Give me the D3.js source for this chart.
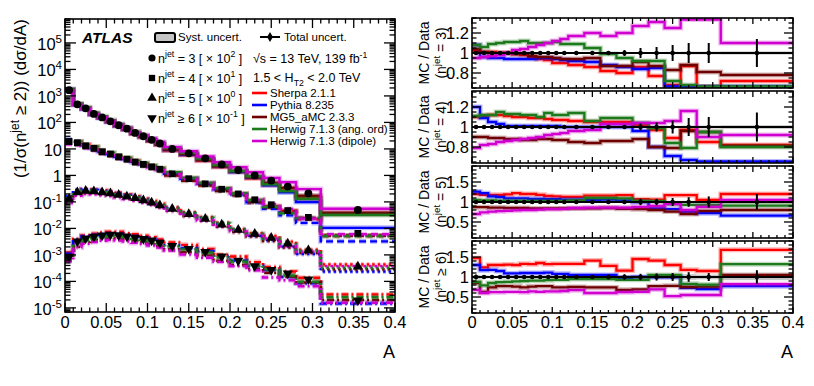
<!DOCTYPE html>
<html>
<head>
<meta charset="utf-8">
<script src="https://cdn.jsdelivr.net/npm/d3@7"></script>
<style>
body { margin: 0; background: #fff; }
text { font-family: "Liberation Sans", Arial, Helvetica, sans-serif; white-space: pre; fill: #000; }
</style>
</head>
<body>
<script>
// Bin edges in A and tick labels
var edges = [0, 0.01, 0.02, 0.03, 0.04, 0.05, 0.06, 0.07, 0.08, 0.09, 0.10, 0.11, 0.12,
             0.14, 0.16, 0.18, 0.20, 0.22, 0.24, 0.26, 0.28, 0.31, 0.40];
var xTickValues = [0, 0.05, 0.1, 0.15, 0.2, 0.25, 0.3, 0.35, 0.4];
var xTickLabels = ['0', '0.05', '0.1', '0.15', '0.2', '0.25', '0.3', '0.35', '0.4'];
var ratioTicksA = [0.8, 1, 1.2], ratioLabelsA = ['0.8', '1', '1.2'];
var ratioTicksB = [0.5, 1, 1.5], ratioLabelsB = ['0.5', '1', '1.5'];

// Data, already scaled as drawn (n=3 x100, n=4 x10, n=5 x1, n>=6 x0.1)
var data3 = [1650, 480, 340, 210, 155, 110, 78, 58, 40, 30, 22, 16, 10, 6.8, 4.4, 2.6, 1.6, 1.0, 0.64, 0.38, 0.21, 0.05];
var data4 = [19, 17, 13, 10.5, 7.8, 6.4, 5.0, 4.1, 3.2, 2.6, 2.1, 1.7, 1.15, 0.75, 0.48, 0.30, 0.20, 0.12, 0.078, 0.047, 0.026, 0.0065];
var data5 = [0.13, 0.23, 0.26, 0.25, 0.23, 0.21, 0.185, 0.16, 0.14, 0.115, 0.095, 0.075, 0.055, 0.035, 0.023, 0.014, 0.0088, 0.0062, 0.0044, 0.0027, 0.0015, 0.00036];
var data6 = [0.00085, 0.0032, 0.0042, 0.0049, 0.0054, 0.0058, 0.0056, 0.0050, 0.0045, 0.0040, 0.0035, 0.0029, 0.0022, 0.0017, 0.0013, 0.00088, 0.0006, 0.00038, 0.00027, 0.0002, 0.00012, 0.000019];

// relative total and systematic uncertainties
var err3 = [0.008, 0.006, 0.006, 0.006, 0.006, 0.006, 0.006, 0.007, 0.007, 0.007, 0.008, 0.008, 0.008, 0.01, 0.015, 0.03, 0.05, 0.06, 0.08, 0.10, 0.10, 0.14];
var err4 = [0.006, 0.005, 0.005, 0.005, 0.005, 0.005, 0.005, 0.005, 0.005, 0.005, 0.005, 0.006, 0.006, 0.008, 0.01, 0.015, 0.035, 0.045, 0.065, 0.09, 0.10, 0.145];
var err5 = [0.04, 0.03, 0.025, 0.025, 0.025, 0.025, 0.025, 0.025, 0.025, 0.025, 0.025, 0.03, 0.03, 0.035, 0.04, 0.05, 0.08, 0.08, 0.10, 0.12, 0.14, 0.20];
var err6 = [0.06, 0.04, 0.035, 0.035, 0.035, 0.035, 0.035, 0.035, 0.035, 0.035, 0.04, 0.04, 0.04, 0.05, 0.06, 0.07, 0.08, 0.09, 0.10, 0.12, 0.10, 0.17];
var syst3 = [0.004, 0.003, 0.003, 0.003, 0.003, 0.003, 0.003, 0.003, 0.003, 0.003, 0.004, 0.004, 0.004, 0.005, 0.006, 0.008, 0.01, 0.01, 0.012, 0.014, 0.014, 0.016];
var syst4 = [0.003, 0.003, 0.003, 0.003, 0.003, 0.003, 0.003, 0.003, 0.003, 0.003, 0.003, 0.003, 0.003, 0.004, 0.005, 0.006, 0.008, 0.01, 0.012, 0.014, 0.015, 0.018];
var syst5 = [0.02, 0.015, 0.015, 0.015, 0.015, 0.015, 0.015, 0.015, 0.015, 0.015, 0.015, 0.015, 0.015, 0.02, 0.02, 0.02, 0.025, 0.025, 0.03, 0.03, 0.035, 0.04];
var syst6 = [0.05, 0.04, 0.035, 0.035, 0.035, 0.035, 0.035, 0.035, 0.035, 0.035, 0.035, 0.035, 0.04, 0.04, 0.05, 0.05, 0.05, 0.06, 0.06, 0.07, 0.06, 0.08];

var generators = ['Sherpa 2.1.1', 'Pythia 8.235', 'MG5_aMC 2.3.3', 'Herwig 7.1.3 (ang. ord)', 'Herwig 7.1.3 (dipole)'];

// MC / Data, one row per generator in the order above
var ratioN3 = [
    [1.02, 1.01, 1.01, 1.00, 1.00, 0.99, 0.98, 0.96, 0.94, 0.93, 0.90, 0.90, 0.88, 0.86, 0.82, 0.80, 0.86, 0.77, 0.68, 0.87, 0.66, 0.72],
    [1.08, 0.96, 0.95, 0.95, 0.94, 0.94, 0.94, 0.94, 0.95, 0.95, 0.94, 0.93, 0.92, 0.91, 0.88, 0.86, 0.84, 0.85, 0.66, 0.60, 0.47, 0.21],
    [1.04, 1.01, 1.00, 1.00, 1.00, 0.99, 0.99, 0.97, 0.96, 0.96, 0.95, 0.94, 0.94, 0.95, 0.87, 0.87, 0.91, 0.87, 0.83, 0.88, 0.81, 0.78],
    [1.08, 1.06, 1.09, 1.10, 1.11, 1.11, 1.12, 1.10, 1.10, 1.10, 1.11, 1.09, 1.09, 1.05, 0.99, 0.95, 0.92, 0.92, 0.72, 0.68, 0.63, 0.64],
    [0.95, 0.96, 0.97, 0.98, 1.00, 1.03, 1.04, 1.06, 1.08, 1.10, 1.12, 1.14, 1.17, 1.20, 1.17, 1.20, 1.27, 1.31, 1.25, 1.45, 1.45, 1.10]
];
var ratioN4 = [
    [1.10, 1.11, 1.12, 1.12, 1.11, 1.10, 1.10, 1.09, 1.09, 1.08, 1.07, 1.07, 1.06, 1.05, 1.05, 1.05, 1.02, 0.97, 0.89, 0.97, 0.85, 0.82],
    [1.20, 1.09, 1.05, 1.03, 1.01, 1.01, 1.01, 1.01, 1.01, 1.01, 1.01, 1.00, 1.00, 1.00, 1.00, 1.00, 0.96, 0.80, 0.71, 0.67, 0.62, 0.50],
    [0.90, 0.90, 0.89, 0.89, 0.88, 0.88, 0.87, 0.87, 0.88, 0.88, 0.87, 0.87, 0.85, 0.84, 0.86, 0.86, 0.88, 0.80, 0.79, 0.96, 0.95, 0.81],
    [1.11, 1.12, 1.12, 1.15, 1.13, 1.13, 1.12, 1.12, 1.10, 1.14, 1.12, 1.12, 1.14, 1.06, 1.09, 1.09, 1.04, 0.99, 0.84, 0.79, 0.95, 0.80],
    [0.79, 0.82, 0.83, 0.85, 0.86, 0.87, 0.88, 0.89, 0.90, 0.92, 0.93, 0.94, 0.96, 0.97, 1.03, 1.03, 1.04, 1.04, 1.06, 1.16, 0.90, 0.92]
];
var ratioN5 = [
    [1.20, 1.18, 1.18, 1.18, 1.19, 1.22, 1.20, 1.20, 1.18, 1.15, 1.14, 1.13, 1.13, 1.16, 1.16, 1.17, 1.07, 1.06, 1.17, 1.17, 1.05, 1.20],
    [1.26, 1.22, 1.14, 1.12, 1.09, 1.09, 1.09, 1.08, 1.08, 1.07, 1.07, 1.06, 1.06, 1.05, 1.06, 1.04, 1.00, 0.84, 0.82, 0.76, 0.72, 0.66],
    [0.87, 0.87, 0.86, 0.86, 0.85, 0.85, 0.85, 0.84, 0.84, 0.84, 0.84, 0.84, 0.84, 0.84, 0.85, 0.83, 0.82, 0.80, 0.76, 0.70, 0.78, 0.80],
    [1.05, 1.04, 1.04, 1.03, 1.03, 1.03, 1.03, 1.03, 1.03, 1.03, 1.03, 1.03, 1.04, 1.10, 1.10, 1.09, 1.03, 1.02, 0.95, 0.93, 0.93, 0.91],
    [0.70, 0.74, 0.76, 0.77, 0.78, 0.79, 0.80, 0.80, 0.81, 0.82, 0.82, 0.83, 0.85, 0.86, 0.86, 0.86, 0.88, 0.90, 0.95, 0.80, 0.88, 1.05]
];
var ratioN6 = [
    [1.47, 1.24, 1.30, 1.30, 1.31, 1.30, 1.33, 1.32, 1.35, 1.32, 1.33, 1.33, 1.33, 1.41, 1.28, 1.16, 1.45, 1.41, 1.30, 1.18, 1.15, 1.68],
    [1.30, 1.17, 1.18, 1.15, 1.09, 1.09, 1.10, 1.10, 1.10, 1.11, 1.08, 1.08, 1.05, 1.05, 1.05, 0.98, 1.00, 1.00, 1.00, 0.73, 0.70, 0.77],
    [0.85, 0.63, 0.74, 0.77, 0.77, 0.76, 0.74, 0.76, 0.77, 0.77, 0.74, 0.74, 0.75, 0.74, 0.74, 0.68, 0.69, 0.77, 0.78, 0.75, 0.76, 1.05],
    [0.88, 0.79, 0.85, 0.87, 0.88, 0.89, 0.90, 0.91, 0.91, 0.92, 0.93, 0.93, 0.95, 0.95, 0.95, 0.93, 0.93, 1.05, 1.05, 0.83, 0.81, 1.32],
    [0.68, 0.60, 0.62, 0.62, 0.63, 0.63, 0.62, 0.64, 0.63, 0.64, 0.64, 0.65, 0.67, 0.60, 0.60, 0.62, 0.63, 0.69, 0.52, 0.55, 0.55, 0.82]
];

var genColors = ['#ff0000', '#0000ff', '#6e0000', '#1c7a1c', '#d000d0'];
var dashes = [null, '7,4', '2.5,3', '7,3,2,3'];
var markers = [d3.symbolCircle, d3.symbolSquare, d3.symbolTriangle, d3.symbolTriangle];

var W = 814, H = 386;
var svg = d3.select('body').append('svg').attr('width', W).attr('height', H);

// Writes text made of [string, 'sup'|'sub'|undefined] parts into a text element
function rich(t, parts, size) {
    var shift = 0;
    parts.forEach(function(p) {
        var target = p[1] === 'sup' ? -0.42 * size : (p[1] === 'sub' ? 0.28 * size : 0);
        t.append('tspan')
            .attr('dy', target - shift)
            .style('font-size', (p[1] ? 0.7 * size : size) + 'px')
            .text(p[0]);
        shift = target;
    });
    return t;
}

function stepPath(vals, x, y) {
    var p = '';
    vals.forEach(function(v, i) {
        var yy = y(v);
        p += (i === 0 ? 'M' : 'L') + x(edges[i]) + ',' + yy + 'L' + x(edges[i + 1]) + ',' + yy;
    });
    return p;
}

function centers() {
    return edges.slice(0, -1).map(function(e, i) { return (e + edges[i + 1]) / 2; });
}

function ticks(g, list, len) {
    g.selectAll(null).data(list).enter().append('line')
        .attr('x1', function(d) { return d[0]; })
        .attr('y1', function(d) { return d[1]; })
        .attr('x2', function(d) { return d[0] + d[2] * len; })
        .attr('y2', function(d) { return d[1] + d[3] * len; })
        .attr('stroke', '#000').attr('stroke-width', 1.3);
}

// x ticks on top and bottom of a frame
function xFrameTicks(g, x, top, bottom, majLen, minLen) {
    var minor = d3.range(0, 41).map(function(k) { return k / 100; });
    var maj = [], mnr = [];
    minor.forEach(function(v, k) {
        var list = (k % 5 === 0) ? maj : mnr;
        list.push([x(v), bottom, 0, -1]);
        list.push([x(v), top, 0, 1]);
    });
    ticks(g, maj, majLen);
    ticks(g, mnr, minLen);
}

function xTickText(g, x, yBase) {
    g.selectAll(null).data(xTickValues).enter().append('text')
        .attr('x', function(d) { return x(d); })
        .attr('y', yBase)
        .attr('text-anchor', 'middle')
        .style('font-size', '16.5px')
        .text(function(d, i) { return xTickLabels[i]; });
}

// ---------------- left panel ----------------
var L = {x0: 65, x1: 395, top: 19, bottom: 312};
var xL = d3.scaleLinear().domain([0, 0.4]).range([L.x0, L.x1]);
var yL = d3.scaleLog().domain([7e-6, 8e5]).range([L.bottom, L.top]);
var dataSets = [data3, data4, data5, data6];
var errSets = [err3, err4, err5, err6];
var systSets = [syst3, syst4, syst5, syst6];
var ratioSets = [ratioN3, ratioN4, ratioN5, ratioN6];

svg.append('clipPath').attr('id', 'clipL').append('rect')
    .attr('x', L.x0).attr('y', L.top).attr('width', L.x1 - L.x0).attr('height', L.bottom - L.top);
var left = svg.append('g').attr('clip-path', 'url(#clipL)');

dataSets.forEach(function(d, n) {
    left.selectAll(null).data(d).enter().append('rect')
        .attr('x', function(v, i) { return xL(edges[i]); })
        .attr('width', function(v, i) { return xL(edges[i + 1]) - xL(edges[i]); })
        .attr('y', function(v, i) { return yL(v * (1 + systSets[n][i])); })
        .attr('height', function(v, i) { return yL(v * (1 - systSets[n][i])) - yL(v * (1 + systSets[n][i])); })
        .attr('fill', '#c4c4c4');
});

dataSets.forEach(function(d, n) {
    ratioSets[n].forEach(function(r, k) {
        var mc = d.map(function(v, i) { return v * r[i]; });
        var path = stepPath(mc, xL, yL);
        left.append('path').attr('d', path).attr('fill', 'none')
            .attr('stroke', genColors[k]).attr('stroke-opacity', 0.28).attr('stroke-width', 5)
            .attr('stroke-dasharray', dashes[n]);
        left.append('path').attr('d', path).attr('fill', 'none')
            .attr('stroke', genColors[k]).attr('stroke-width', 2.4)
            .attr('stroke-dasharray', dashes[n]);
    });
});

var cs = centers();
dataSets.forEach(function(d, n) {
    left.selectAll(null).data(d).enter().append('line')
        .attr('x1', function(v, i) { return xL(cs[i]); })
        .attr('x2', function(v, i) { return xL(cs[i]); })
        .attr('y1', function(v, i) { return yL(v * (1 + errSets[n][i])); })
        .attr('y2', function(v, i) { return yL(v * (1 - errSets[n][i])); })
        .attr('stroke', '#000').attr('stroke-width', 1.5);
    left.selectAll(null).data(d).enter().append('path')
        .attr('d', d3.symbol().type(markers[n]).size(n === 0 ? 48 : (n === 1 ? 46 : 44)))
        .attr('transform', function(v, i) {
            return 'translate(' + xL(cs[i]) + ',' + yL(v) + ')' + (n === 3 ? ' rotate(180)' : '');
        })
        .attr('fill', '#000');
});

var gL = svg.append('g');
gL.append('rect').attr('x', L.x0).attr('y', L.top).attr('width', L.x1 - L.x0).attr('height', L.bottom - L.top)
    .attr('fill', 'none').attr('stroke', '#000').attr('stroke-width', 1.6);
xFrameTicks(gL, xL, L.top, L.bottom, 9, 4.5);
var yMaj = [], yMin = [];
d3.range(-6, 6).forEach(function(e) {
    d3.range(1, 10).forEach(function(k) {
        var v = k * Math.pow(10, e);
        if (v < 7e-6 || v > 8e5) return;
        var list = k === 1 ? yMaj : yMin;
        list.push([L.x0, yL(v), 1, 0]);
        list.push([L.x1, yL(v), -1, 0]);
    });
});
ticks(gL, yMaj, 11);
ticks(gL, yMin, 5.5);
d3.range(-5, 6).forEach(function(e) {
    var t = gL.append('text').attr('x', 62).attr('y', yL(Math.pow(10, e)) + 7)
        .attr('text-anchor', 'end').style('font-size', '16.5px');
    if (e === 0) t.text('1');
    else if (e === 1) t.text('10');
    else rich(t, [['10'], [String(e), 'sup']], 16.5);
});
xTickText(gL, xL, 328);
gL.append('text').attr('x', L.x1).attr('y', 358).attr('text-anchor', 'end').style('font-size', '18px').text('A');
rich(gL.append('text').attr('transform', 'translate(26,' + L.top + ') rotate(-90)')
    .attr('text-anchor', 'end'), [['(1/σ(n'], ['jet', 'sup'], [' ≥ 2)) (dσ/dA)']], 17);

// legend
gL.append('text').attr('x', 82).attr('y', 43).style('font-size', '15.5px')
    .style('font-weight', 'bold').style('font-style', 'italic').text('ATLAS');
gL.append('rect').attr('x', 155).attr('y', 33).attr('width', 20).attr('height', 9).attr('rx', 2)
    .attr('fill', '#c4c4c4').attr('stroke', '#000').attr('stroke-width', 2);
gL.append('text').attr('x', 178).attr('y', 41).style('font-size', '11.5px').text('Syst. uncert.');
gL.append('line').attr('x1', 260).attr('x2', 280).attr('y1', 37).attr('y2', 37)
    .attr('stroke', '#000').attr('stroke-width', 2);
gL.append('path').attr('d', d3.symbol().type(d3.symbolDiamond).size(30))
    .attr('transform', 'translate(270,37)').attr('fill', '#000');
gL.append('text').attr('x', 284).attr('y', 41).style('font-size', '11.5px').text('Total uncert.');

var markerLabels = [
    [['n'], ['jet', 'sup'], [' = 3 [ × 10'], ['2', 'sup'], [' ]']],
    [['n'], ['jet', 'sup'], [' = 4 [ × 10'], ['1', 'sup'], [' ]']],
    [['n'], ['jet', 'sup'], [' = 5 [ × 10'], ['0', 'sup'], [' ]']],
    [['n'], ['jet', 'sup'], [' ≥ 6 [ × 10'], ['-1', 'sup'], [' ]']]
];
markerLabels.forEach(function(parts, n) {
    var yy = 58 + 20 * n;
    gL.append('path').attr('d', d3.symbol().type(markers[n]).size(40))
        .attr('transform', 'translate(152,' + yy + ')' + (n === 3 ? ' rotate(180)' : ''))
        .attr('fill', '#000');
    rich(gL.append('text').attr('x', 158).attr('y', yy + 4.5), parts, 12.5);
});
rich(gL.append('text').attr('x', 253).attr('y', 63), [['√s = 13 TeV, 139 fb'], ['-1', 'sup']], 12.5);
rich(gL.append('text').attr('x', 253).attr('y', 82), [['1.5 < H'], ['T2', 'sub'], [' < 2.0 TeV']], 12.5);
generators.forEach(function(name, k) {
    var yy = 93 + 12 * k;
    gL.append('line').attr('x1', 252).attr('x2', 267).attr('y1', yy).attr('y2', yy)
        .attr('stroke', genColors[k]).attr('stroke-width', 2.6);
    gL.append('text').attr('x', 270).attr('y', yy + 4).style('font-size', '11.5px').text(name);
});

// ---------------- ratio panels ----------------
var xR = d3.scaleLinear().domain([0, 0.4]).range([472, 793]);
var panels = [
    {top: 18, bottom: 88, lo: 0.65, hi: 1.35, tv: ratioTicksA, tl: ratioLabelsA, step: 0.05, title: [['(n'], ['jet', 'sup'], [' = 3)']]},
    {top: 91, bottom: 163, lo: 0.64, hi: 1.36, tv: ratioTicksA, tl: ratioLabelsA, step: 0.05, title: [['(n'], ['jet', 'sup'], [' = 4)']]},
    {top: 166, bottom: 238, lo: 0.1, hi: 1.9, tv: ratioTicksB, tl: ratioLabelsB, step: 0.1, title: [['(n'], ['jet', 'sup'], [' = 5)']]},
    {top: 241, bottom: 313, lo: 0.1, hi: 1.9, tv: ratioTicksB, tl: ratioLabelsB, step: 0.1, title: [['(n'], ['jet', 'sup'], [' ≥ 6)']]}
];

panels.forEach(function(p, n) {
    var y = d3.scaleLinear().domain([p.lo, p.hi]).range([p.bottom, p.top]);
    var yc = function(v) { return Math.max(p.top + 1.5, Math.min(p.bottom - 1.5, y(v))); };
    svg.append('clipPath').attr('id', 'clipR' + n).append('rect')
        .attr('x', 472).attr('y', p.top).attr('width', 321).attr('height', p.bottom - p.top);
    var body = svg.append('g').attr('clip-path', 'url(#clipR' + n + ')');

    body.selectAll(null).data(systSets[n]).enter().append('rect')
        .attr('x', function(s, i) { return xR(edges[i]); })
        .attr('width', function(s, i) { return xR(edges[i + 1]) - xR(edges[i]); })
        .attr('y', function(s) { return y(1 + s); })
        .attr('height', function(s) { return y(1 - s) - y(1 + s); })
        .attr('fill', '#c4c4c4');

    ratioSets[n].forEach(function(r, k) {
        var path = stepPath(r, xR, yc);
        body.append('path').attr('d', path).attr('fill', 'none')
            .attr('stroke', genColors[k]).attr('stroke-opacity', 0.28).attr('stroke-width', 5);
        body.append('path').attr('d', path).attr('fill', 'none')
            .attr('stroke', genColors[k]).attr('stroke-width', 2.3);
    });

    body.append('line').attr('x1', xR(0)).attr('x2', xR(0.4)).attr('y1', y(1)).attr('y2', y(1))
        .attr('stroke', '#000').attr('stroke-width', 2.2);
    body.selectAll(null).data(errSets[n]).enter().append('line')
        .attr('x1', function(e, i) { return xR(cs[i]); })
        .attr('x2', function(e, i) { return xR(cs[i]); })
        .attr('y1', function(e) { return y(1 + e); })
        .attr('y2', function(e) { return y(1 - e); })
        .attr('stroke', '#000').attr('stroke-width', 2);
    body.selectAll(null).data(cs).enter().append('circle')
        .attr('cx', function(c) { return xR(c); }).attr('cy', y(1)).attr('r', 2.3).attr('fill', '#000');

    var g = svg.append('g');
    g.append('rect').attr('x', 472).attr('y', p.top).attr('width', 321).attr('height', p.bottom - p.top)
        .attr('fill', 'none').attr('stroke', '#000').attr('stroke-width', 1.6);
    xFrameTicks(g, xR, p.top, p.bottom, 6, 3);
    var maj = [], mnr = [];
    d3.range(Math.round(p.lo / p.step), Math.round(p.hi / p.step) + 1).forEach(function(k) {
        var v = k * p.step;
        var isMaj = p.tv.some(function(t) { return Math.abs(t - v) < 1e-6; });
        var list = isMaj ? maj : mnr;
        list.push([472, y(v), 1, 0]);
        list.push([793, y(v), -1, 0]);
    });
    ticks(g, maj, 9);
    ticks(g, mnr, 4.5);
    g.selectAll(null).data(p.tv).enter().append('text')
        .attr('x', 469).attr('y', function(v) { return y(v) + 6; })
        .attr('text-anchor', 'end').style('font-size', '16.5px')
        .text(function(v, i) { return p.tl[i]; });
    var mid = (p.top + p.bottom) / 2;
    g.append('text').attr('transform', 'translate(429,' + mid + ') rotate(-90)')
        .attr('text-anchor', 'middle').style('font-size', '14px').text('MC / Data');
    rich(g.append('text').attr('transform', 'translate(446,' + mid + ') rotate(-90)')
        .attr('text-anchor', 'middle'), p.title, 14);
    if (n === 3) {
        xTickText(g, xR, 328);
        g.append('text').attr('x', 793).attr('y', 358).attr('text-anchor', 'end').style('font-size', '18px').text('A');
    }
});
</script>
</body>
</html>
